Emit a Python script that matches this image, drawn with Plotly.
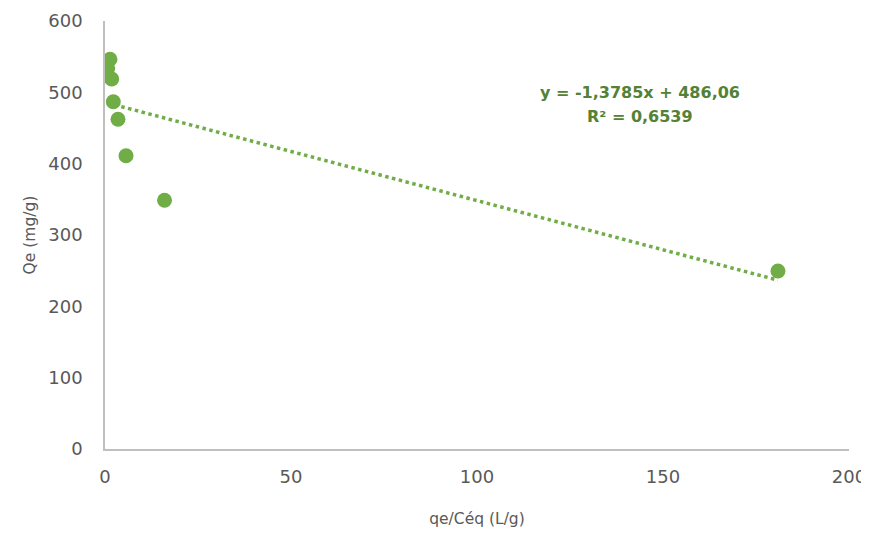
import numpy as np
import plotly.graph_objects as go

x_vals = [0.73, 1.34, 1.8, 2.23, 3.49, 5.65, 16.0, 180.9]
y_vals = [533.7, 546.3, 518.7, 486.9, 462.2, 411.2, 348.7, 249.5]
slope = -1.3785
intercept = 486.06
r2_text = "R² = 0,6539"
eq_text = "y = -1,3785x + 486,06"

green = "#70ad47"
dark_green = "#538135"
tick_color = "#595959"
font = "DejaVu Sans"

xt = np.array([min(x_vals), max(x_vals)])
yt = slope * xt + intercept

fig = go.Figure()
fig.add_trace(go.Scatter(x=xt, y=yt, mode="lines",
                         line=dict(color=green, width=3.5, dash="dot"),
                         hoverinfo="skip", showlegend=False))
fig.add_trace(go.Scatter(x=x_vals, y=y_vals, mode="markers",
                         marker=dict(color=green, size=15),
                         showlegend=False))

for txt, yp in [(eq_text, 0.834), (r2_text, 0.776)]:
    fig.add_annotation(x=0.719, y=yp, xref="paper", yref="paper",
                       xanchor="center", yanchor="middle",
                       text=f"<b>{txt}</b>",
                       showarrow=False, align="center",
                       font=dict(family=font, size=16, color=dark_green))

fig.update_layout(
    width=861, height=528,
    margin=dict(l=97, r=20, t=13, b=87),
    plot_bgcolor="white", paper_bgcolor="white",
    font=dict(family=font, color=tick_color, size=17),
    xaxis=dict(range=[0, 200], tickvals=[0, 50, 100, 150, 200],
               showgrid=False, zeroline=False, showline=True,
               linecolor="#bfbfbf", linewidth=1.5,
               ticks="outside", ticklen=11, tickcolor="rgba(0,0,0,0)",
               automargin=False,
               title=dict(text="qe/Céq (L/g)", font=dict(size=15.5, color=tick_color), standoff=27),
               tickfont=dict(size=18, color=tick_color)),
    yaxis=dict(range=[0, 600], tickvals=[0, 100, 200, 300, 400, 500, 600],
               showgrid=False, zeroline=False, showline=True,
               linecolor="#bfbfbf", linewidth=1.5,
               ticks="outside", ticklen=17, tickcolor="rgba(0,0,0,0)",
               automargin=False,
               title=dict(text="Qe (mg/g)", font=dict(size=15.5, color=tick_color), standoff=9),
               tickfont=dict(size=18, color=tick_color)),
)

fig.write_html("out.html")
